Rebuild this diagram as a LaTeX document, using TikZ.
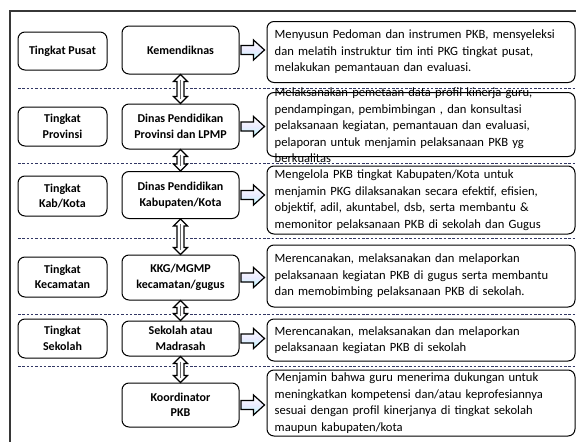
\documentclass[tikz,border=0pt]{standalone}
\usepackage{fontspec}
\setmainfont{Carlito}
\usetikzlibrary{calc}
\definecolor{dashc}{RGB}{50,55,100}
\definecolor{framec}{RGB}{55,55,55}
\newcommand{\vdarrow}[2]{%
  \path let \p1=(#1.south), \p2=(#2.north) in
    [draw=black, line width=1.2pt, fill=white, line join=miter]
    (\x1,\y1) -- (\x1+7pt,\y1-7pt) -- (\x1+3.5pt,\y1-7pt) -- (\x1+3.5pt,\y2+7pt)
    -- (\x1+7pt,\y2+7pt) -- (\x1,\y2) -- (\x1-7pt,\y2+7pt) -- (\x1-3.5pt,\y2+7pt)
    -- (\x1-3.5pt,\y1-7pt) -- (\x1-7pt,\y1-7pt) -- cycle;
  \path let \p1=(#1.south), \p2=(#2.north) in
    [draw=black!60, line width=0.9pt] (\x1,\y1-5pt) -- (\x1,\y2+5pt);}
\newcommand{\harrow}[2]{%
  \path let \p1=(#1.east), \p2=(#2.west) in
    [draw=black, line width=1.2pt, line join=miter, top color=white, bottom color=cyan!25, middle color=blue!8]
    (\x1+1.5pt,\y1+4.5pt) -- (\x2-13pt,\y1+4.5pt) -- (\x2-13pt,\y1+10pt) -- (\x2-2pt,\y1)
    -- (\x2-13pt,\y1-10pt) -- (\x2-13pt,\y1-4.5pt) -- (\x1+1.5pt,\y1-4.5pt) -- cycle;}
\begin{document}
\begin{tikzpicture}[x=1pt,y=-1pt,
  bx/.style={draw=black, line width=1pt, rounded corners=7pt, inner sep=0pt},
  lbox/.style={bx, minimum width=89pt, align=center, font=\bfseries\fontsize{12}{15.5}\selectfont},
  mbox/.style={bx, minimum width=117pt, align=center, font=\bfseries\fontsize{12}{15.5}\selectfont},
  rbox/.style={bx, minimum width=308pt},
  rtext/.style={inner sep=0pt, text width=298pt, align=left, font=\fontsize{12.6}{16.5}\selectfont, anchor=west},
  dline/.style={draw=dashc, line width=0.9pt, dash pattern=on 2.5pt off 1.8pt}]
\useasboundingbox (0,0) rectangle (576,442);
\clip (0,0) rectangle (576,442);
\fill[white] (0,0) rectangle (576,442);
% frame
\draw[framec, line width=1.8pt] (10,450) -- (10,11) -- (590,11);
% dashed separators
\foreach \yy in {88,163,238,314,366}{\draw[dline] (18,\yy) -- (576,\yy);}
% left column
\node[lbox, minimum height=38pt] (lp) at (62.5,51) {Tingkat Pusat};
\node[lbox, minimum height=39pt] (lv) at (62.5,126.5) {Tingkat\\Provinsi};
\node[lbox, minimum height=40pt] (lk) at (62.5,196) {Tingkat\\Kab/Kota};
\node[lbox, minimum height=40pt] (lc) at (62.5,277) {Tingkat\\Kecamatan};
\node[lbox, minimum height=39pt] (ls) at (62.5,338.5) {Tingkat\\Sekolah};
% middle column
\node[mbox, minimum height=48pt] (m1) at (180.5,50) {Kemendiknas};
\node[mbox, minimum height=45pt] (m2) at (180.5,126.5) {Dinas Pendidikan\\Provinsi dan LPMP};
\node[mbox, minimum height=47pt] (m3) at (180.5,195) {Dinas Pendidikan\\Kabupaten/Kota};
\node[mbox, minimum height=45pt] (m4) at (180.5,277.5) {KKG/MGMP\\kecamatan/gugus};
\node[mbox, minimum height=35pt] (m5) at (180.5,338.5) {Sekolah atau\\Madrasah};
\node[mbox, minimum height=44pt] (m6) at (180.5,405) {Koordinator\\PKB};
% right column
\node[rbox, minimum height=61pt] (r1) at (421,52) {};
\node[rtext] at ($(r1.west)+(8,0)$) {Menyusun Pedoman dan instrumen PKB, mensyeleksi\\dan melatih instruktur tim inti PKG tingkat pusat,\\melakukan pemantauan dan evaluasi.};
\node[rbox, minimum height=64pt] (r2) at (421,124.5) {};
\node[rtext] at ($(r2.west)+(8,1)$) {Melaksanakan pemetaan data profil kinerja guru,\\pendampingan, pembimbingan , dan konsultasi\\pelaksanaan kegiatan, pemantauan dan evaluasi,\\pelaporan untuk menjamin pelaksanaan PKB yg\\berkualitas};
\node[rbox, minimum height=68pt] (r3) at (421,200) {};
\node[rtext] at ($(r3.west)+(8,0)$) {Mengelola PKB tingkat Kabupaten/Kota untuk\\menjamin PKG dilaksanakan secara efektif, efisien,\\objektif, adil, akuntabel, dsb, serta membantu \&\\memonitor pelaksanaan PKB di sekolah dan Gugus};
\node[rbox, minimum height=62pt] (r4) at (421,276) {};
\node[rtext] at ($(r4.west)+(8,0)$) {Merencanakan, melaksanakan dan melaporkan\\pelaksanaan kegiatan PKB di gugus serta membantu\\dan memobimbing pelaksanaan PKB di sekolah.};
\node[rbox, minimum height=42pt] (r5) at (421,340) {};
\node[rtext] at ($(r5.west)+(8,0)$) {Merencanakan, melaksanakan dan melaporkan\\pelaksanaan kegiatan PKB di sekolah};
\node[rbox, minimum height=66pt] (r6) at (421,403) {};
\node[rtext] at ($(r6.west)+(8,0)$) {Menjamin bahwa guru menerima dukungan untuk\\meningkatkan kompetensi dan/atau keprofesiannya\\sesuai dengan profil kinerjanya di tingkat sekolah\\maupun kabupaten/kota};
% vertical double arrows
\vdarrow{m1}{m2}
\vdarrow{m2}{m3}
\vdarrow{m3}{m4}
\vdarrow{m4}{m5}
\vdarrow{m5}{m6}
% horizontal arrows
\harrow{m1}{r1}
\harrow{m2}{r2}
\harrow{m3}{r3}
\harrow{m4}{r4}
\harrow{m5}{r5}
\harrow{m6}{r6}
\end{tikzpicture}
\end{document}
